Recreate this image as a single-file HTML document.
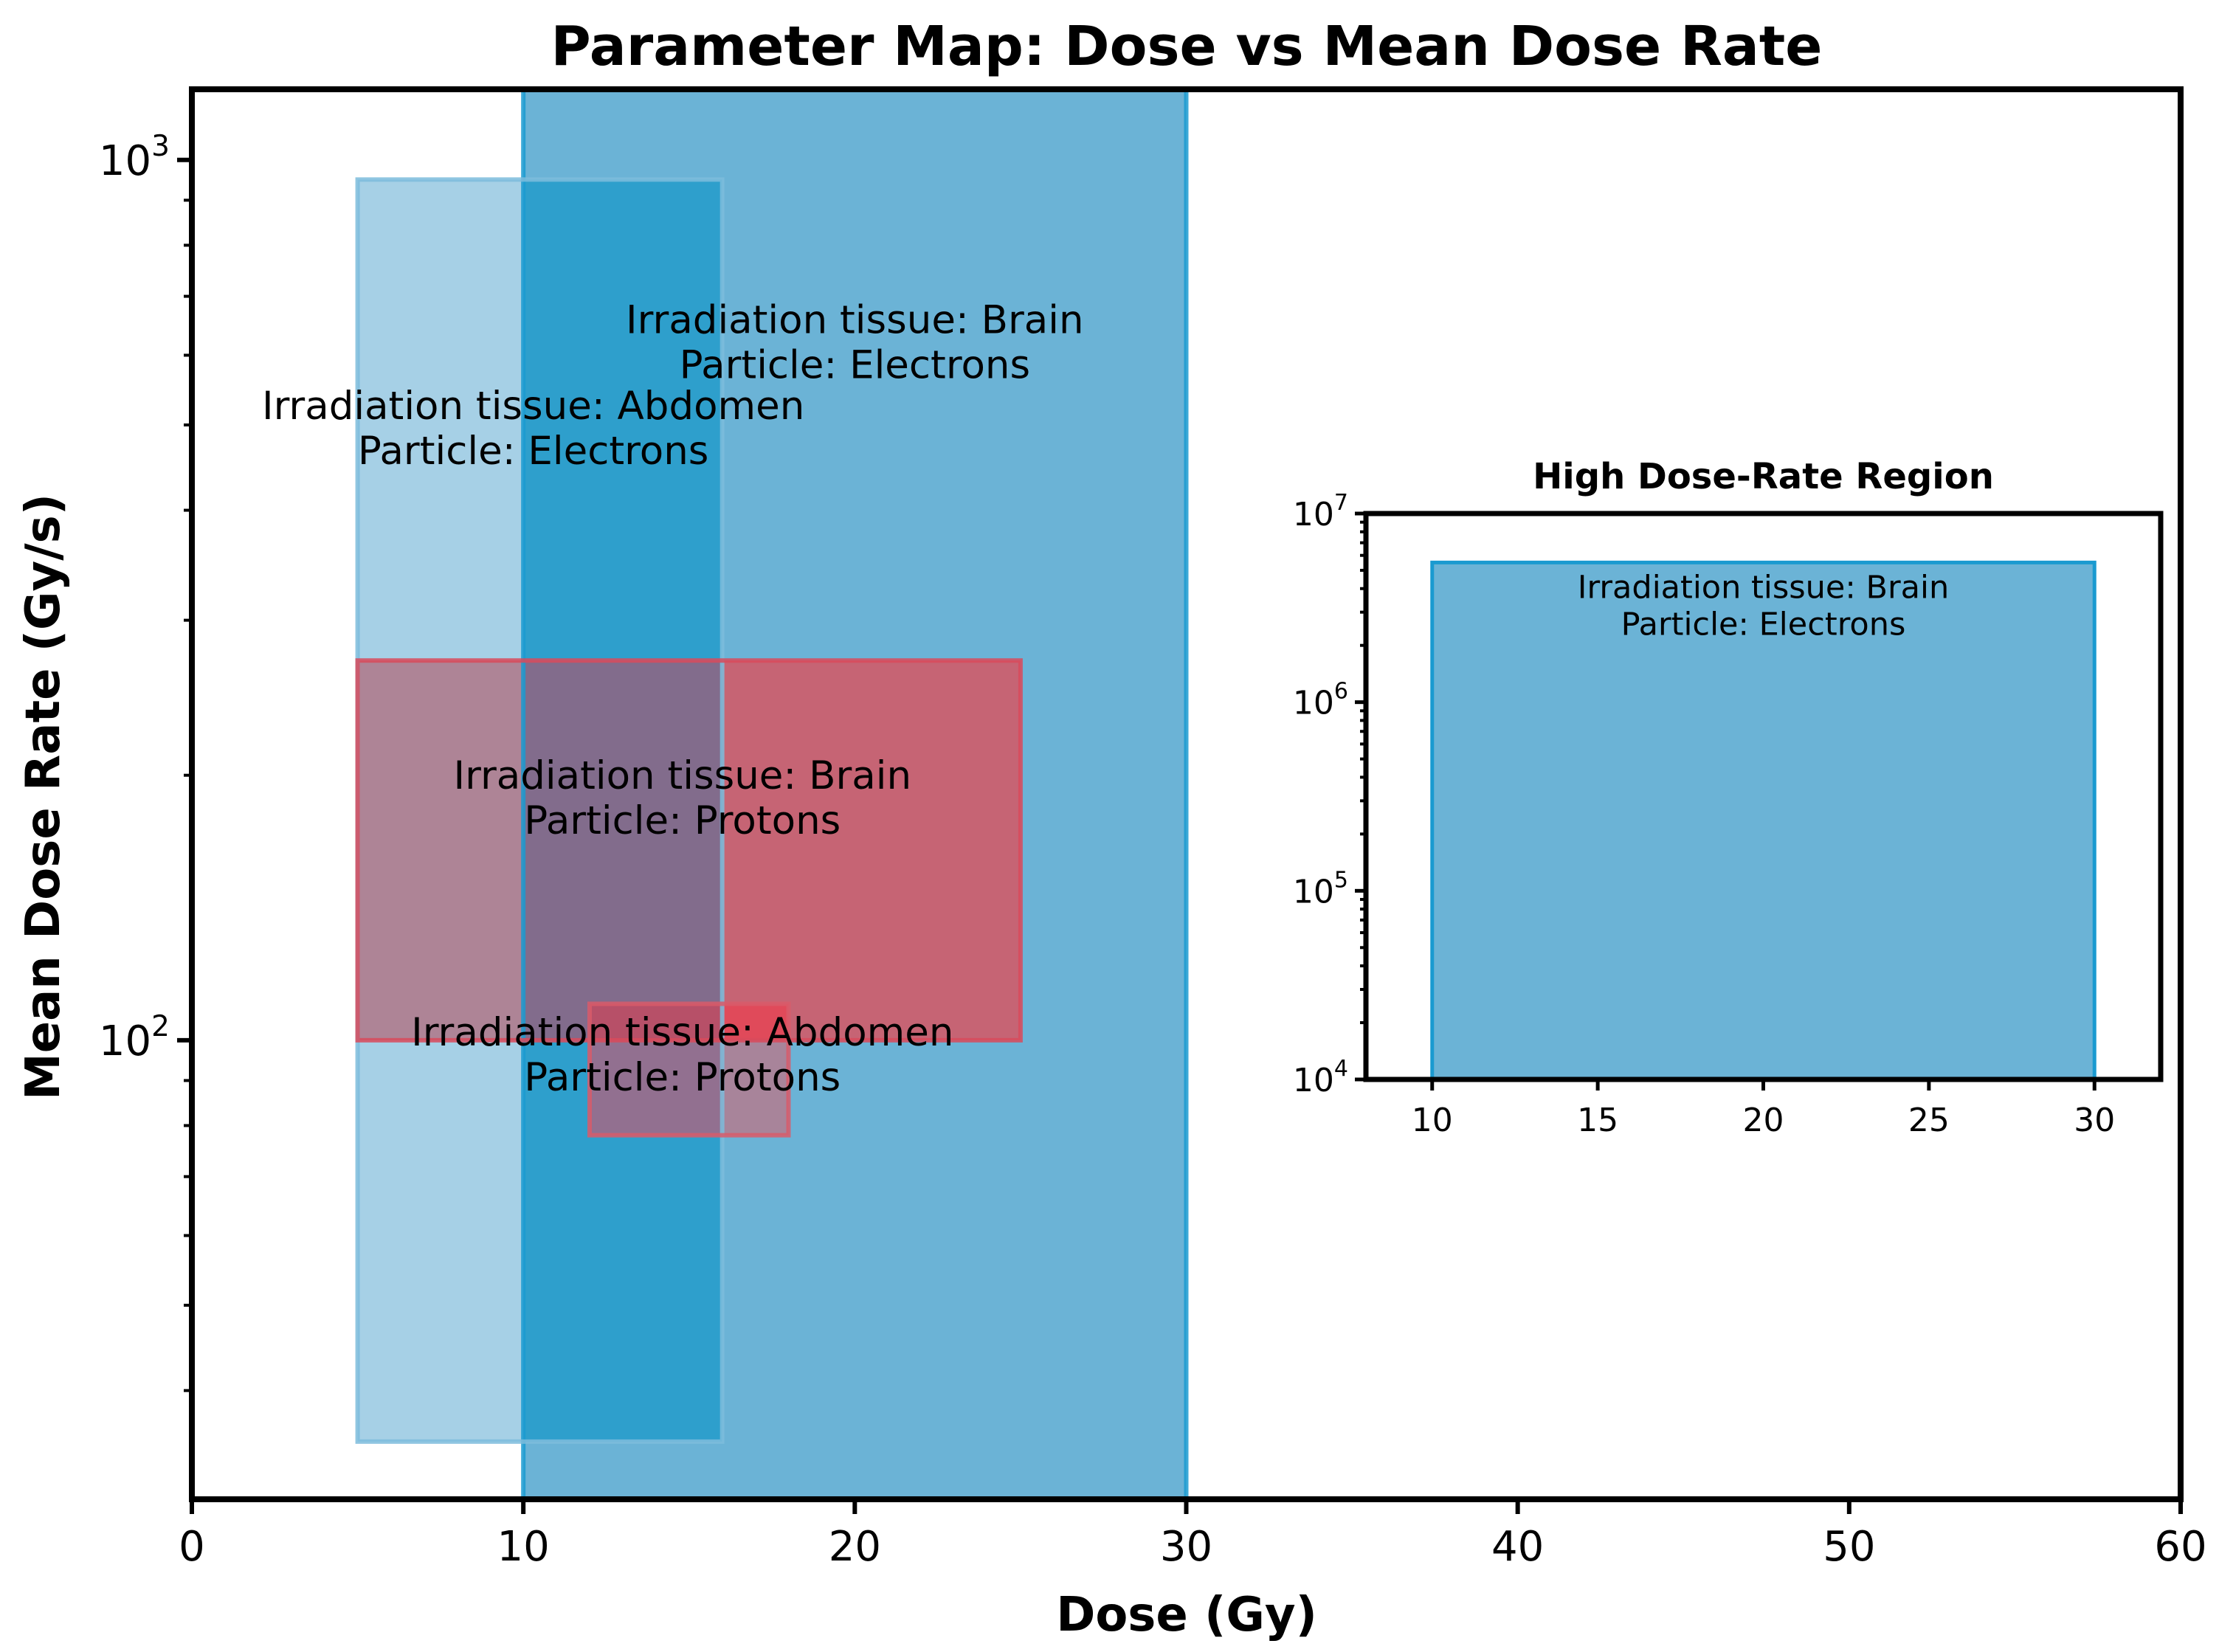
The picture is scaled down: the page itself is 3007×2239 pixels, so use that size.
<!DOCTYPE html>
<html><head><meta charset="utf-8"><style>
html,body{margin:0;padding:0;background:#fff}
svg{display:block;font-family:"DejaVu Sans","Liberation Sans",sans-serif}
</style></head><body>
<svg id="chart" width="3007" height="2239" viewBox="0 0 3007 2239" xmlns="http://www.w3.org/2000/svg">
<rect width="3007" height="2239" fill="#fff"/>
<g id="main"></g>
<g id="inset"></g>
</svg>
<script>
// ---- data ----
const regionNames = ["brain-electrons","abdomen-electrons","brain-protons","abdomen-protons"];
const doseMin = [10, 5, 5, 12];
const doseMax = [30, 16, 25, 18];
const rateMin = [10000, 35, 100, 78];
const rateMax = [5500000, 950, 270, 110];
const labelTissue = ["Brain","Abdomen","Brain","Abdomen"];
const labelParticle = ["Electrons","Electrons","Protons","Protons"];
const labelDose = [20, 10.3, 14.8, 14.8];
const labelRate = [619, 494, 188, 96];
const xTicks = [0,10,20,30,40,50,60];
const yTickExp = [2,3];
const insetXTicks = [10,15,20,25,30];
const insetYTickExp = [4,5,6,7];
const insetLabelDose = 20;
const insetLabelRate = 3200000;

const NS = "http://www.w3.org/2000/svg";
function mk(tag, attrs, parent, txt){
  const e = document.createElementNS(NS, tag);
  for (const k in attrs) e.setAttribute(k, attrs[k]);
  if (txt !== undefined) e.textContent = txt;
  parent.appendChild(e); return e;
}
const main = document.getElementById('main');
const inset = document.getElementById('inset');

// main axes
const L=260, R=2955, T=121, B=2032;
const xMin=0, xMax=60, yLo=30.1, yHi=1203;
const yLogMin=Math.log10(yLo), yLogMax=Math.log10(yHi);
const X = v => L + (v-xMin)/(xMax-xMin)*(R-L);
const Y = v => B - (Math.log10(v)-yLogMin)/(yLogMax-yLogMin)*(B-T);
// regions that lie outside the visible rate range are drawn as full-height spans (as in the reference)
function vis(lo,hi){
  if (lo >= yHi) return [yLo*0.9, yHi*1.1];
  return [Math.max(lo, yLo*0.9), Math.min(hi, yHi*1.1)];
}

const clip = mk('clipPath',{id:'mainclip'},main);
mk('rect',{x:L,y:T,width:R-L,height:B-T},clip);
const plot = mk('g',{'clip-path':'url(#mainclip)'},main);

function rectFor(x0,x1,y0,y1,fill,name){
  const r = mk('rect',{x:X(x0),y:Y(y1),width:X(x1)-X(x0),height:Y(y0)-Y(y1),fill:fill},plot);
  
  
  return r;
}
function inter(a,b){
  return [Math.max(a[0],b[0]),Math.min(a[1],b[1]),Math.max(a[2],b[2]),Math.min(a[3],b[3])];
}
const box = i => { const v=vis(rateMin[i],rateMax[i]); return [doseMin[i],doseMax[i],v[0],v[1]]; };
function paint(b,fill,name){ if(b[0]<b[1]&&b[2]<b[3]) rectFor(b[0],b[1],b[2],b[3],fill,name); }

const big=box(0), light=box(1), red=box(2), small=box(3);
paint(big,'#6bb3d6','region-brain-electrons');
paint(light,'#a6d0e6','region-abdomen-electrons');
paint(inter(light,big),'#2e9fcc','overlap-abdomen-brain-electrons');
paint(red,'#c66474','region-brain-protons');
paint(inter(red,light),'#ae8496','overlap-protons-abdomen-electrons');
paint(inter(inter(red,light),big),'#826c8c','overlap-protons-both-electrons');
paint(small,'#a8849a','region-abdomen-protons');
paint(inter(small,inter(light,big)),'#927090','overlap-abdomen-protons-electrons');
paint(inter(small,red),'#e04a5a','overlap-abdomen-brain-protons');
paint(inter(inter(small,red),light),'#b75068','overlap-protons-all');
// edges
const edgeCols=['#1a9ad0','#7dbcdc','#d84a5c','#d85a6a'];
const boxes=[big,light,red,small];
for(let i=0;i<4;i++){
  const b=boxes[i];
  const r=mk('rect',{x:X(b[0]),y:Y(b[3]),width:X(b[1])-X(b[0]),height:Y(b[2])-Y(b[3]),fill:'none',stroke:edgeCols[i],'stroke-width':6,'stroke-opacity':0.85},plot);
  
  
}
// labels
for(let i=0;i<4;i++){
  const t=mk('text',{x:X(labelDose[i]),y:Y(labelRate[i]),'text-anchor':'middle','font-size':53,fill:'#000'},main);
  
  
  mk('tspan',{x:X(labelDose[i]),dy:-14},t,'Irradiation tissue: '+labelTissue[i]);
  mk('tspan',{x:X(labelDose[i]),dy:61},t,'Particle: '+labelParticle[i]);
}
// axes frame
const fr=mk('rect',{x:L,y:T,width:R-L,height:B-T,fill:'none',stroke:'#000','stroke-width':8},main);


// x ticks
for(const v of xTicks){
  mk('line',{x1:X(v),x2:X(v),y1:B,y2:B+20,stroke:'#000','stroke-width':6},main);
  const t=mk('text',{x:X(v),y:B+83,'text-anchor':'middle','font-size':56},main,String(v));
  
  
}
// y ticks
for(const e of yTickExp){
  const v=Math.pow(10,e);
  mk('line',{x1:L,x2:L-20,y1:Y(v),y2:Y(v),stroke:'#000','stroke-width':6},main);
  const t=mk('text',{x:L-30,y:Y(v)+20,'text-anchor':'end','font-size':56},main);
  
  
  mk('tspan',{},t,'10');
  mk('tspan',{'font-size':39,dy:-26},t,String(e));
}
for(let d=1; d<=3; d++){
  for(let m=2;m<=9;m++){
    const v=m*Math.pow(10,d);
    if(v>yLo && v<yHi) mk('line',{x1:L,x2:L-11,y1:Y(v),y2:Y(v),stroke:'#000','stroke-width':4},main);
  }
}
let t=mk('text',{x:1608,y:88,'text-anchor':'middle','font-size':74,'font-weight':'bold'},main,'Parameter Map: Dose vs Mean Dose Rate');
 
t=mk('text',{x:1608,y:2210,'text-anchor':'middle','font-size':64,'font-weight':'bold'},main,'Dose (Gy)');
 
t=mk('text',{x:0,y:0,'text-anchor':'middle','font-size':64,'font-weight':'bold',transform:'translate(80,1080) rotate(-90)'},main,'Mean Dose Rate (Gy/s)');
 

// inset
const iL=1851, iR=2928, iT=696, iB=1463;
const ixMin=8, ixMax=32, iyMin=4, iyMax=7;
const IX=v=>iL+(v-ixMin)/(ixMax-ixMin)*(iR-iL);
const IY=v=>iB-(Math.log10(v)-iyMin)/(iyMax-iyMin)*(iB-iT);
const ir=mk('rect',{x:IX(doseMin[0]),y:IY(rateMax[0]),width:IX(doseMax[0])-IX(doseMin[0]),height:IY(rateMin[0])-IY(rateMax[0]),fill:'#6bb3d6',stroke:'#1a9ad0','stroke-width':5},inset);


t=mk('text',{x:IX(insetLabelDose),y:IY(insetLabelRate),'text-anchor':'middle','font-size':43},inset);
 
mk('tspan',{x:IX(insetLabelDose),dy:-12},t,'Irradiation tissue: '+labelTissue[0]);
mk('tspan',{x:IX(insetLabelDose),dy:50},t,'Particle: '+labelParticle[0]);
const ifr=mk('rect',{x:iL,y:iT,width:iR-iL,height:iB-iT,fill:'none',stroke:'#000','stroke-width':7},inset);
 
for(const v of insetXTicks){
  mk('line',{x1:IX(v),x2:IX(v),y1:iB,y2:iB+15,stroke:'#000','stroke-width':5},inset);
  t=mk('text',{x:IX(v),y:iB+70,'text-anchor':'middle','font-size':44},inset,String(v));
   
}
for(const e of insetYTickExp){
  const v=Math.pow(10,e);
  mk('line',{x1:iL,x2:iL-15,y1:IY(v),y2:IY(v),stroke:'#000','stroke-width':5},inset);
  t=mk('text',{x:iL-24,y:IY(v)+16,'text-anchor':'end','font-size':44},inset);
   
  mk('tspan',{},t,'10');
  mk('tspan',{'font-size':30,dy:-21},t,String(e));
  if(e<iyMax) for(let m=2;m<=9;m++) mk('line',{x1:iL,x2:iL-8,y1:IY(m*v),y2:IY(m*v),stroke:'#000','stroke-width':4},inset);
}
t=mk('text',{x:(iL+iR)/2,y:662,'text-anchor':'middle','font-size':48,'font-weight':'bold'},inset,'High Dose-Rate Region');
 
</script>
</body></html>
